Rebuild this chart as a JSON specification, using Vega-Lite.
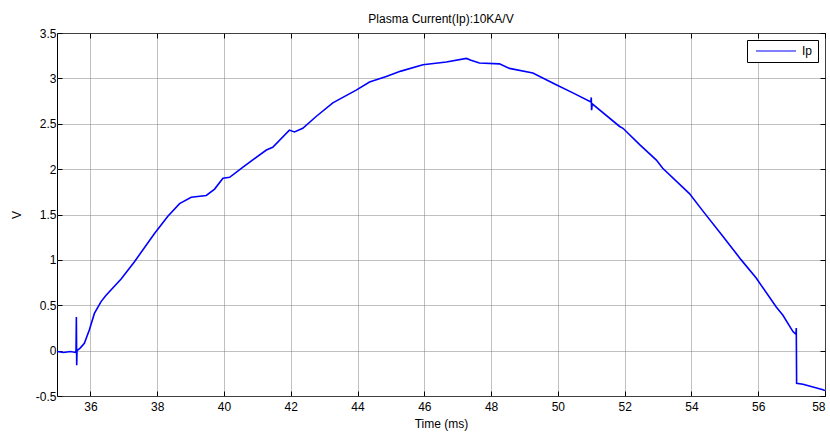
{
  "$schema": "https://vega.github.io/schema/vega-lite/v6.json",
  "width": 768,
  "height": 363,
  "autosize": {"type": "none"},
  "padding": {"left": 57, "top": 33, "right": 5, "bottom": 36},
  "background": "white",
  "title": {"text": "Plasma Current(Ip):10KA/V", "font": "Liberation Sans", "fontSize": 12, "fontWeight": "normal", "color": "black", "offset": 1},
  "data": {"values": [
    {"i":0,"t":35.00,"v":-0.01},{"i":1,"t":35.2,"v":-0.02},{"i":2,"t":35.4,"v":-0.01},{"i":3,"t":35.55,"v":-0.02},
    {"i":4,"t":35.57,"v":0.0},{"i":5,"t":35.58,"v":0.37},{"i":6,"t":35.59,"v":-0.16},{"i":7,"t":35.60,"v":0.0},
    {"i":8,"t":35.7,"v":0.03},{"i":9,"t":35.82,"v":0.08},{"i":10,"t":35.97,"v":0.23},{"i":11,"t":36.12,"v":0.41},
    {"i":12,"t":36.32,"v":0.54},{"i":13,"t":36.47,"v":0.61},{"i":14,"t":36.92,"v":0.79},{"i":15,"t":37.32,"v":0.98},
    {"i":16,"t":37.92,"v":1.29},{"i":17,"t":38.32,"v":1.48},{"i":18,"t":38.67,"v":1.62},{"i":19,"t":39.02,"v":1.69},
    {"i":20,"t":39.47,"v":1.71},{"i":21,"t":39.72,"v":1.78},{"i":22,"t":39.97,"v":1.90},{"i":23,"t":40.17,"v":1.91},
    {"i":24,"t":40.56,"v":2.02},{"i":25,"t":41.27,"v":2.21},{"i":26,"t":41.46,"v":2.24},{"i":27,"t":41.96,"v":2.43},
    {"i":28,"t":42.11,"v":2.41},{"i":29,"t":42.36,"v":2.45},{"i":30,"t":42.76,"v":2.58},{"i":31,"t":43.26,"v":2.73},
    {"i":32,"t":43.96,"v":2.87},{"i":33,"t":44.36,"v":2.96},{"i":34,"t":44.86,"v":3.02},{"i":35,"t":45.30,"v":3.08},
    {"i":36,"t":45.96,"v":3.15},{"i":37,"t":46.66,"v":3.18},{"i":38,"t":47.26,"v":3.22},{"i":39,"t":47.40,"v":3.20},
    {"i":40,"t":47.65,"v":3.17},{"i":41,"t":48.25,"v":3.16},{"i":42,"t":48.55,"v":3.11},{"i":43,"t":49.25,"v":3.06},
    {"i":44,"t":49.95,"v":2.93},{"i":45,"t":50.45,"v":2.84},{"i":46,"t":50.99,"v":2.74},{"i":47,"t":51.00,"v":2.79},
    {"i":48,"t":51.01,"v":2.65},{"i":49,"t":51.03,"v":2.72},{"i":50,"t":51.85,"v":2.47},{"i":51,"t":51.95,"v":2.45},
    {"i":52,"t":52.45,"v":2.27},{"i":53,"t":52.95,"v":2.10},{"i":54,"t":53.14,"v":2.01},{"i":55,"t":53.94,"v":1.73},
    {"i":56,"t":54.34,"v":1.54},{"i":57,"t":54.94,"v":1.26},{"i":58,"t":55.49,"v":1.00},{"i":59,"t":55.94,"v":0.80},
    {"i":60,"t":56.54,"v":0.48},{"i":61,"t":56.74,"v":0.39},{"i":62,"t":57.04,"v":0.21},{"i":63,"t":57.13,"v":0.18},
    {"i":64,"t":57.14,"v":0.25},{"i":65,"t":57.15,"v":-0.36},{"i":66,"t":57.34,"v":-0.37},{"i":67,"t":57.94,"v":-0.43},
    {"i":68,"t":58.0,"v":-0.44}
  ]},
  "layer": [
    {
      "mark": {"type": "line", "strokeWidth": 1.6, "clip": true},
      "encoding": {
        "x": {"field": "t", "type": "quantitative", "scale": {"domain": [35, 58], "nice": false, "zero": false},
              "axis": {"values": [36,38,40,42,44,46,48,50,52,54,56,58], "labelExpr": "'' + datum.value", "title": "Time (ms)", "grid": true, "tickSize": -5, "labelPadding": 10, "titlePadding": 6}},
        "y": {"field": "v", "type": "quantitative", "scale": {"domain": [-0.5, 3.5], "nice": false, "zero": false},
              "axis": {"values": [-0.5,0,0.5,1,1.5,2,2.5,3,3.5], "labelExpr": "'' + datum.value", "title": "V", "grid": true, "tickSize": -5, "labelPadding": 6, "titlePadding": 12}},
        "order": {"field": "i", "type": "quantitative"},
        "color": {"datum": "Ip", "type": "nominal", "scale": {"range": ["#0000ff"]},
                  "legend": {"title": null, "orient": "top-right", "offset": 7, "symbolType": "M-4,0H4", "symbolSize": 100, "symbolOffset": 18, "symbolStrokeWidth": 1, "padding": 5, "strokeColor": "black", "fillColor": "white", "cornerRadius": 0, "labelFont": "Liberation Sans", "labelFontSize": 12, "labelColor": "black", "labelOffset": 20}}
      }
    },
    {
      "mark": {"type": "line", "opacity": 0},
      "encoding": {
        "x": {"field": "t", "type": "quantitative", "axis": {"orient": "top", "values": [36,38,40,42,44,46,48,50,52,54,56,58], "labels": false, "title": null, "grid": false, "tickSize": -5}},
        "y": {"field": "v", "type": "quantitative", "axis": {"orient": "right", "values": [-0.5,0,0.5,1,1.5,2,2.5,3,3.5], "labels": false, "title": null, "grid": false, "tickSize": -5}}
      }
    }
  ],
  "resolve": {"axis": {"x": "independent", "y": "independent"}},
  "config": {
    "view": {"stroke": "black", "strokeWidth": 1},
    "axis": {"domain": false, "labelFont": "Liberation Sans", "labelFontSize": 12, "labelColor": "black", "tickColor": "black", "tickWidth": 1,
             "gridColor": "#808080", "gridDash": [1, 1], "gridOpacity": 1, "gridWidth": 1,
             "titleFont": "Liberation Sans", "titleFontSize": 12, "titleFontWeight": "normal", "titleColor": "black"}
  }
}
